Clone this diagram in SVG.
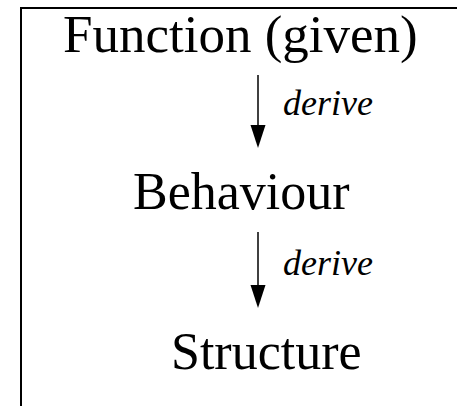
<svg xmlns="http://www.w3.org/2000/svg" width="457" height="406" viewBox="0 0 457 406">
  <defs>
    <style>
      .label { font-family: "Liberation Serif", "Times New Roman", serif; font-size: 52px; fill: #000; }
      .edge-label { font-family: "Liberation Serif", "Times New Roman", serif; font-size: 36px; font-style: italic; fill: #000; }
      .edge { stroke: #000; stroke-width: 1.5; fill: none; }
      .frame { stroke: #000; stroke-width: 2; fill: none; }
    </style>
  </defs>

  <rect x="0" y="0" width="457" height="406" fill="#fff"/>

  <!-- outer frame: top and left edges -->
  <path class="frame" d="M21,406 L21,8 L457,8"/>

  <g id="function">
    <text class="label" x="63" y="52" style="font-size:53px">Function (given)</text>
  </g>

  <g id="behaviour">
    <text class="label" x="133" y="209">Behaviour</text>
  </g>

  <g id="structure">
    <text class="label" x="171" y="369">Structure</text>
  </g>

  <g id="connectors">
    <g id="edge-function-behaviour">
      <line class="edge" x1="258" y1="75" x2="258" y2="125"/>
      <path d="M250.5,125 L265.5,125 L258,148 Z" fill="#000"/>
      <text class="edge-label" x="283" y="115">derive</text>
    </g>
    <g id="edge-behaviour-structure">
      <line class="edge" x1="258" y1="232" x2="258" y2="285"/>
      <path d="M250.5,285 L265.5,285 L258,308 Z" fill="#000"/>
      <text class="edge-label" x="283" y="275">derive</text>
    </g>
  </g>
</svg>
